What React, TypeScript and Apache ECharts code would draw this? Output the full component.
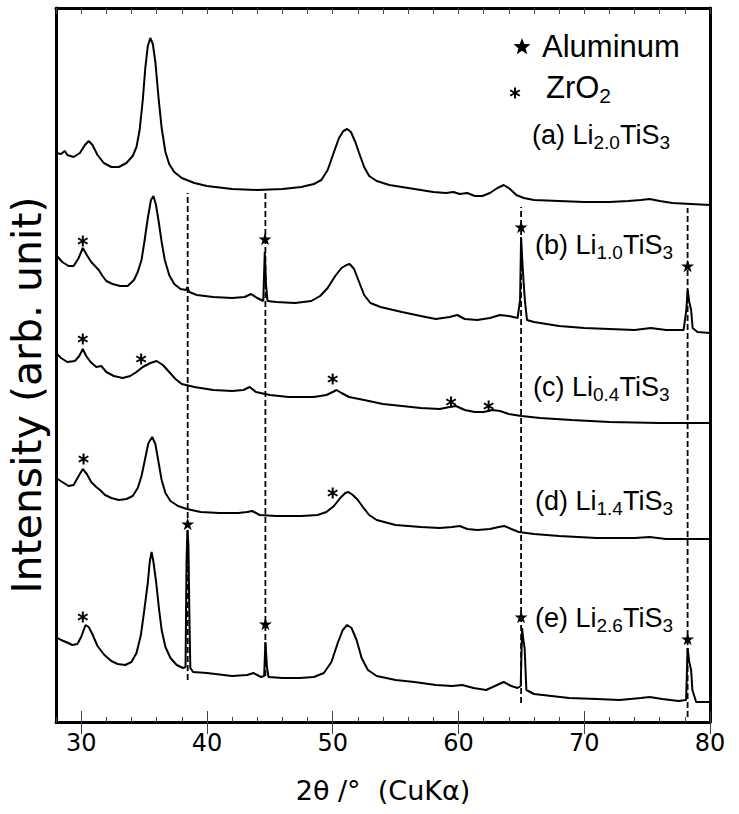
import React, { useEffect, useRef } from 'react';
import * as echarts from 'echarts';

// 2θ range and tick labels
const X_MIN = 28;
const X_MAX = 80;
const majorTicks = [30, 40, 50, 60, 70, 80];
const Y_MAX = 714; // stacked intensity (arb. unit)

// XRD patterns, [2θ, stacked intensity]
const traceA: [number, number][] = [
  [28.0, 569], [28.4, 568], [28.7, 571], [28.9, 567], [29.4, 565], [29.9, 569], [30.3, 577], [30.6, 581],
  [30.9, 577], [31.3, 567], [31.8, 559], [32.4, 555], [33.0, 555], [33.6, 559], [34.1, 566], [34.4, 575],
  [34.65, 592], [34.9, 622], [35.1, 654], [35.3, 676], [35.5, 684], [35.7, 678], [35.9, 660], [36.17, 622],
  [36.4, 594], [36.7, 570], [37.0, 558], [37.4, 550], [38.0, 544], [39.0, 539], [40.0, 536], [42.0, 533],
  [44.0, 532], [46.0, 533], [47.5, 535], [48.5, 538], [49.1, 542], [49.6, 552], [50.1, 570], [50.5, 584],
  [50.85, 591], [51.15, 593], [51.45, 590], [51.8, 580], [52.1, 569], [52.5, 555], [52.9, 546], [53.5, 541],
  [54.5, 537], [56.0, 534], [58.0, 530], [59.0, 529], [59.6, 530], [60.1, 528], [60.7, 529], [61.3, 526],
  [61.9, 526], [62.5, 529], [63.1, 534], [63.6, 537], [64.1, 533], [64.6, 527], [65.2, 524], [66.0, 522],
  [68.0, 521], [70.0, 520], [72.0, 520], [73.5, 521], [74.5, 522], [75.2, 523], [76.0, 521], [77.0, 519],
  [78.5, 518], [80.0, 517],
];
const traceB: [number, number][] = [
  [28.0, 467], [28.5, 460], [29.0, 456], [29.4, 456], [29.8, 464], [30.13, 474], [30.45, 467], [30.8, 460],
  [31.1, 456], [31.4, 452], [31.7, 446], [32.0, 441], [32.5, 438], [33.1, 436], [33.7, 436], [34.2, 442],
  [34.5, 450], [34.8, 462], [35.05, 482], [35.3, 504], [35.55, 522], [35.75, 526], [35.95, 517], [36.17, 500],
  [36.4, 480], [36.65, 462], [37.0, 447], [37.4, 438], [37.9, 433], [38.35, 432], [38.45, 435], [38.6, 430],
  [39.2, 427], [40.5, 425], [42.0, 424], [43.0, 425], [43.5, 428], [44.0, 424], [44.48, 421], [44.6, 470],
  [44.7, 437], [44.82, 421], [45.5, 420], [47.0, 419], [48.3, 421], [49.0, 426], [49.6, 434], [50.2, 446],
  [50.7, 454], [51.1, 457], [51.35, 458], [51.7, 453], [52.1, 440], [52.5, 427], [53.0, 419], [53.8, 415],
  [55.5, 410], [57.0, 406], [58.2, 403], [59.3, 405], [59.9, 407], [60.5, 403], [61.5, 402], [62.5, 404],
  [63.3, 407], [64.0, 406], [64.7, 404], [64.9, 422], [64.98, 485], [65.08, 460], [65.18, 440], [65.28, 422],
  [65.45, 402], [66.0, 400], [68.0, 396], [70.0, 394], [72.0, 393], [74.0, 392], [75.3, 394], [76.5, 392],
  [77.9, 392], [78.12, 412], [78.22, 432], [78.35, 420], [78.5, 412], [78.62, 394], [79.0, 390], [80.0, 389],
];
const traceC: [number, number][] = [
  [28.0, 369], [28.4, 364], [28.9, 360], [29.5, 361], [29.85, 366], [30.13, 373], [30.4, 366], [30.75, 360],
  [31.2, 355], [31.6, 356], [32.0, 350], [32.6, 346], [33.3, 344], [33.9, 346], [34.4, 350], [34.9, 355],
  [35.5, 359], [36.0, 361], [36.5, 357], [37.0, 350], [37.5, 343], [38.0, 338], [39.0, 335], [40.5, 332],
  [42.0, 331], [42.9, 332], [43.4, 335], [43.9, 330], [45.0, 327], [46.5, 325], [48.5, 325], [49.5, 327],
  [50.0, 330], [50.3, 332], [50.7, 329], [51.3, 325], [52.5, 322], [54.0, 318], [55.5, 316], [57.0, 314],
  [58.5, 313], [59.3, 315], [59.8, 316], [60.5, 312], [61.3, 310], [62.0, 310], [62.7, 312], [63.3, 311],
  [64.0, 308], [65.0, 306], [66.5, 304], [69.0, 302], [72.0, 300], [76.0, 299], [80.0, 299],
];
const traceD: [number, number][] = [
  [28.0, 244], [28.5, 240], [29.0, 236], [29.4, 237], [29.8, 246], [30.13, 253], [30.45, 248], [30.8, 240],
  [31.2, 235], [31.5, 232], [31.9, 227], [32.4, 224], [33.0, 222], [33.6, 223], [34.1, 226], [34.5, 234],
  [34.8, 246], [35.1, 264], [35.35, 279], [35.65, 285], [35.9, 278], [36.15, 260], [36.4, 242], [36.7, 229],
  [37.1, 221], [37.7, 216], [38.4, 213], [39.5, 210], [41.0, 209], [42.5, 209], [43.2, 210], [43.6, 211],
  [44.2, 207], [45.5, 206], [47.5, 206], [48.8, 207], [49.5, 210], [50.1, 216], [50.6, 224], [51.0, 229],
  [51.25, 230], [51.6, 227], [52.0, 222], [52.4, 215], [52.9, 207], [53.5, 202], [55.0, 197], [57.0, 195],
  [58.5, 194], [59.5, 195], [60.1, 196], [60.7, 193], [61.5, 192], [62.5, 193], [63.2, 195], [63.65, 196],
  [64.2, 193], [64.8, 190], [66.0, 188], [68.0, 186], [71.0, 184], [74.0, 184], [75.2, 185], [76.5, 183],
  [80.0, 183],
];
const traceE: [number, number][] = [
  [28.0, 85], [28.4, 82], [28.8, 80], [29.3, 77], [29.7, 78], [30.0, 85], [30.35, 97], [30.6, 95],
  [30.85, 89], [31.3, 76], [31.85, 67], [32.4, 61], [32.9, 58], [33.5, 57], [34.0, 60], [34.4, 69],
  [34.75, 87], [35.0, 110], [35.3, 139], [35.45, 160], [35.6, 170], [35.75, 160], [35.97, 139], [36.2, 112],
  [36.4, 92], [36.7, 75], [37.1, 64], [37.6, 57], [38.1, 54], [38.3, 55], [38.38, 162], [38.45, 192],
  [38.53, 177], [38.6, 112], [38.68, 54], [38.9, 50], [40.0, 49], [42.0, 46], [43.2, 47], [43.7, 49],
  [44.3, 45], [44.55, 46], [44.65, 80], [44.78, 54], [44.9, 45], [46.0, 44], [47.4, 44], [48.5, 45],
  [49.3, 49], [49.9, 60], [50.4, 79], [50.8, 92], [51.15, 97], [51.5, 94], [51.9, 82], [52.3, 64],
  [52.8, 52], [53.5, 46], [55.0, 42], [56.5, 40], [58.2, 37], [59.5, 36], [60.3, 37], [61.2, 34],
  [62.2, 32], [62.9, 36], [63.6, 40], [64.2, 36], [64.7, 34], [64.95, 36], [65.06, 94], [65.16, 82],
  [65.26, 74], [65.4, 32], [66.0, 28], [68.8, 24], [71.0, 23], [72.8, 22], [74.5, 24], [75.2, 25],
  [76.2, 23], [77.5, 21], [78.1, 22], [78.22, 74], [78.35, 60], [78.5, 52], [78.6, 32], [78.9, 20],
  [80.0, 20],
];
const traces = [traceA, traceB, traceC, traceD, traceE];

// Aluminum reflections (dashed guides): position, top, bottom
const alPositions = [38.47, 44.65, 64.98, 78.22];
const alGuideTop = [529, 529, 515, 514];
const alGuideBottom = [42, 46, 19, 5];

// peak markers
const alMarks: [number, number][] = [
  [44.62, 483], [64.98, 495], [78.22, 456],
  [38.47, 198], [44.65, 98], [64.98, 105], [78.22, 83],
];
const zrMarks: [number, number][] = [
  [30.13, 481],
  [30.13, 383], [34.77, 363], [50.0, 343], [59.41, 320], [62.4, 316],
  [30.19, 263], [50.0, 229],
  [30.13, 105],
];

// sample labels
const sampleTags = ['(a)', '(b)', '(c)', '(d)', '(e)'];
const sampleLi = ['2.0', '1.0', '0.4', '1.4', '2.6'];
const legendNames = ['Aluminum', 'ZrO'];
const xAxisName = '2θ /°  (CuKα)';
const yAxisName = 'Intensity (arb. unit)';

const STAR = 'path://M50,2L61.8,38.2L99.5,38.2L69,60.5L80.7,96.6L50,74.3L19.3,96.6L31,60.5L0.5,38.2L38.2,38.2Z';
const ASTER = 'path://M5,0L5,10M0.67,2.5L9.33,7.5M0.67,7.5L9.33,2.5';

const SANS = '"Liberation Sans", Arial, sans-serif';
const WIDE = '"DejaVu Sans", sans-serif';

function starPoints(cx: number, cy: number, R: number, r: number): number[][] {
  const pts: number[][] = [];
  for (let i = 0; i < 10; i++) {
    const a = -Math.PI / 2 + (i * Math.PI) / 5;
    const rad = i % 2 === 0 ? R : r;
    pts.push([cx + rad * Math.cos(a), cy + rad * Math.sin(a)]);
  }
  return pts;
}

export default function App() {
  const ref = useRef<HTMLDivElement>(null);
  useEffect(() => {
    if (!ref.current) return;
    const chart = echarts.init(ref.current, undefined, { renderer: 'svg' });
    const labelPos = [
      [532, 135], [535, 245], [533, 387], [535, 501], [535, 618],
    ];
    const rich = {
      n: { fontSize: 27, fontFamily: SANS, color: '#000' },
      s: { fontSize: 19, fontFamily: SANS, color: '#000', padding: [15, 0, 0, 0] },
    };
    const xBase = {
      type: 'value',
      min: X_MIN,
      max: X_MAX,
      splitLine: { show: false },
    };
    const option: any = {
      animation: false,
      backgroundColor: '#fff',
      grid: { left: 56, right: 29, top: 8, bottom: 92 },
      xAxis: [
        {
          ...xBase,
          position: 'bottom',
          interval: 2,
          axisLine: { show: true, onZero: false, lineStyle: { color: '#000', width: 3 } },
          axisTick: { show: true, inside: true, length: 5, lineStyle: { color: '#444', width: 1 } },
          axisLabel: {
            margin: 9,
            fontSize: 24,
            fontFamily: WIDE,
            color: '#000',
            formatter: (v: number) => (majorTicks.includes(v) ? String(v) : ''),
          },
          name: xAxisName,
          nameLocation: 'middle',
          nameGap: 55,
          nameTextStyle: { fontSize: 27, fontFamily: WIDE, color: '#000' },
        },
        {
          ...xBase,
          position: 'bottom',
          axisLine: { show: false },
          axisTick: { show: true, inside: true, length: 11, customValues: majorTicks, lineStyle: { color: '#444', width: 1 } },
          axisLabel: { show: false },
        },
        {
          ...xBase,
          position: 'top',
          interval: 2,
          axisLine: { show: true, onZero: false, lineStyle: { color: '#000', width: 3 } },
          axisTick: { show: true, inside: true, length: 6, lineStyle: { color: '#444', width: 1 } },
          axisLabel: { show: false },
        },
        {
          ...xBase,
          position: 'top',
          axisLine: { show: false },
          axisTick: { show: true, inside: true, length: 12, customValues: majorTicks, lineStyle: { color: '#444', width: 1 } },
          axisLabel: { show: false },
        },
      ],
      yAxis: [
        {
          type: 'value', min: 0, max: Y_MAX, position: 'left',
          axisLine: { show: true, onZero: false, lineStyle: { color: '#000', width: 3 } },
          axisTick: { show: false }, axisLabel: { show: false }, splitLine: { show: false },
        },
        {
          type: 'value', min: 0, max: Y_MAX, position: 'right',
          axisLine: { show: true, onZero: false, lineStyle: { color: '#000', width: 3 } },
          axisTick: { show: false }, axisLabel: { show: false }, splitLine: { show: false },
        },
      ],
      series: [
        ...alPositions.map((x, i) => ({
          type: 'line',
          silent: true,
          symbol: 'none',
          z: 1,
          data: [[x, alGuideBottom[i]], [x, alGuideTop[i]]],
          lineStyle: { color: '#000', width: 1.8, type: [6, 3] },
        })),
        ...traces.map((t) => ({
          type: 'line',
          silent: true,
          symbol: 'none',
          z: 2,
          data: t,
          lineStyle: { color: '#000', width: 2 },
        })),
        {
          type: 'scatter',
          silent: true,
          z: 3,
          symbol: STAR,
          symbolSize: 13,
          symbolKeepAspect: true,
          itemStyle: { color: '#000', opacity: 1 },
          data: alMarks,
        },
        {
          type: 'scatter',
          silent: true,
          z: 3,
          symbol: ASTER,
          symbolSize: 11,
          symbolKeepAspect: true,
          itemStyle: { color: 'rgba(0,0,0,0)', borderColor: '#000', borderWidth: 2, opacity: 1 },
          data: zrMarks,
        },
      ],
      graphic: [
        {
          type: 'text',
          x: 27,
          y: 395,
          rotation: Math.PI / 2,
          style: { text: yAxisName, fontSize: 41, fontFamily: WIDE, fill: '#000', align: 'center', verticalAlign: 'middle' },
        },
        {
          type: 'polygon',
          shape: { points: starPoints(522, 47, 9, 3.8) },
          style: { fill: '#000' },
        },
        {
          type: 'text',
          x: 542,
          y: 46,
          style: { text: legendNames[0], fontSize: 31, fontFamily: SANS, fill: '#000', align: 'left', verticalAlign: 'middle' },
        },
        {
          type: 'group',
          x: 515,
          y: 93,
          children: [
            { type: 'line', shape: { x1: 0, y1: -5.5, x2: 0, y2: 5.5 }, style: { stroke: '#000', lineWidth: 2 } },
            { type: 'line', shape: { x1: -4.8, y1: -2.75, x2: 4.8, y2: 2.75 }, style: { stroke: '#000', lineWidth: 2 } },
            { type: 'line', shape: { x1: -4.8, y1: 2.75, x2: 4.8, y2: -2.75 }, style: { stroke: '#000', lineWidth: 2 } },
          ],
        },
        {
          type: 'text',
          x: 546,
          y: 87,
          style: {
            text: `{n|${legendNames[1]}}{s|2}`,
            align: 'left',
            verticalAlign: 'middle',
            rich: {
              n: { fontSize: 31, fontFamily: SANS, color: '#000' },
              s: { fontSize: 21, fontFamily: SANS, color: '#000', padding: [16, 0, 0, 0] },
            },
          },
        },
        ...sampleTags.map((tag, i) => ({
          type: 'text',
          x: labelPos[i][0],
          y: labelPos[i][1],
          style: {
            text: `{n|${tag} Li}{s|${sampleLi[i]}}{n|TiS}{s|3}`,
            align: 'left',
            verticalAlign: 'middle',
            rich,
          },
        })),
      ],
    };
    chart.setOption(option);
    return () => chart.dispose();
  }, []);
  return (
    <div
      ref={ref}
      style={{ position: 'fixed', left: 0, top: 0, width: 739, height: 814, background: '#fff' }}
    />
  );
}
